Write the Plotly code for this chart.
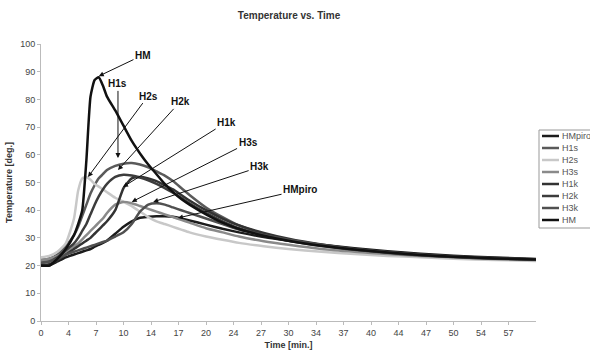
import plotly.graph_objects as go

time = [0, 1, 2, 3, 4, 4.5, 5, 5.5, 6, 6.5, 7, 7.5, 8, 9, 10, 11, 12, 13, 14, 15, 16, 17, 18,
        20, 22, 24, 27, 30, 34, 38, 42, 46, 50, 55, 60]

HMpiro = [20, 20, 21.5, 23, 24, 24.5, 25, 25.5, 26, 26.8, 27.5, 28.2, 29, 31.5, 34, 36, 37.3, 37.6, 37.8, 37.8, 37.6, 37, 36.3,
          34.8, 33.3, 32, 30.3, 29, 27.5, 26.3, 25.2, 24.3, 23.6, 22.9, 22.4]
H1s = [22, 22.5, 24, 27, 31, 34, 38, 42, 46, 49, 51.5, 53, 54.5, 56, 56.8, 57, 56.5, 55.5, 54, 52.5, 50.5, 48, 45.5,
       41, 37.5, 34.5, 31.5, 29.3, 27.3, 25.8, 24.7, 23.8, 23.2, 22.6, 22.2]
H2s = [23, 23.5, 25, 28, 37, 47, 51.5, 52, 51, 49.5, 48.5, 47.5, 46.5, 44.5, 43, 41.5, 39.5, 37.5, 36, 35, 34, 33, 32,
       30.5, 29.3, 28.2, 27, 26, 25, 24.2, 23.5, 23, 22.5, 22, 21.7]
H3s = [22, 22.5, 23.5, 25, 27, 28, 29.5, 31, 32.5, 34, 35.5, 37, 39, 42, 43, 42.5, 41.5, 40.5, 39.5, 38.5, 37.5, 36.5, 35.5,
       33.5, 32, 30.5, 28.8, 27.5, 26, 25, 24.2, 23.5, 23, 22.4, 22]
H1k = [20, 20.5, 22, 24, 26, 27, 28, 29, 30, 31.5, 33, 34.5, 36, 40, 48, 51.5, 52, 51.5, 50.5, 49, 47.5, 45.5, 43.5,
       40, 37, 34.5, 31.8, 29.7, 27.6, 26, 24.9, 24, 23.3, 22.7, 22.3]
H2k = [21, 21.5, 23, 25.5, 28, 30, 32.5, 35, 38.5, 42, 45, 47.5, 49.5, 52, 52.8, 52.5, 51.8, 50.8, 49.5, 48, 46.3, 44.5, 42.5,
       39, 36, 33.5, 31, 29, 27.1, 25.7, 24.6, 23.7, 23.1, 22.5, 22.1]
H3k = [21, 21.5, 22.5, 24, 25, 25.5, 26, 26.5, 27, 27.5, 28, 28.5, 29, 30.5, 32, 35, 39.5, 42, 42.5, 42, 41, 40, 39,
       37, 35, 33, 31, 29.3, 27.4, 25.9, 24.8, 23.9, 23.2, 22.6, 22.2]
HM = [20, 20, 22.5, 26, 31, 35, 40, 58, 81, 87, 88, 85, 81, 76, 70.5, 65, 60.5, 56.5, 53, 49.5, 46.5, 44, 42,
      38.5, 35.5, 33.2, 30.8, 29, 27.2, 25.8, 24.7, 23.8, 23.2, 22.6, 22.2]

series_names = ["HMpiro", "H1s", "H2s", "H3s", "H1k", "H2k", "H3k", "HM"]
series_values = [HMpiro, H1s, H2s, H3s, H1k, H2k, H3k, HM]
series_colors = ["#1c1c1c", "#5a5a5a", "#c8c8c8", "#8a8a8a", "#333333", "#3c3c3c", "#505050", "#111111"]

tick_labels = ["0", "4", "7", "10", "14", "17", "20", "24", "27", "30", "34", "37", "40", "44", "47", "50", "54", "57"]
tick_positions = [i * 10 / 3 for i in range(len(tick_labels))]

ann_labels = ["HM", "H1s", "H2s", "H2k", "H1k", "H3s", "H3k", "HMpiro"]
ann_head_t = [7.0, 9.33, 5.7, 9.33, 9.94, 11.0, 13.6, 16.6]
ann_head_T = [88.4, 58.8, 52.0, 54.5, 48.4, 43.0, 43.0, 37.2]
ann_tail_t = [12.36, 9.33, 12.97, 16.85, 22.5, 25.1, 26.5, 31.4]
ann_tail_T = [96.0, 85.6, 81.2, 79.1, 71.8, 64.3, 55.6, 47.3]

FONT = "Liberation Sans, Arial, sans-serif"
W, H = 590, 354
ML, MR, MT, MB = 41, 54, 44, 33
PW, PH = W - ML - MR, H - MT - MB


def px_x(px):
    return (px - ML) / PW


def px_y(py):
    return (H - MB - py) / PH


fig = go.Figure()
for name, vals, col in zip(series_names, series_values, series_colors):
    fig.add_trace(go.Scatter(x=time, y=vals, name=name, mode="lines", showlegend=False,
                             line=dict(color=col, width=2.5, shape="spline", smoothing=0.5)))

for txt, hx, hy, tx, ty in zip(ann_labels, ann_head_t, ann_head_T, ann_tail_t, ann_tail_T):
    fig.add_annotation(x=hx, y=hy, ax=tx, ay=ty, axref="x", ayref="y", xref="x", yref="y",
                       text="<b>" + txt + "</b>", showarrow=True, arrowhead=2, arrowsize=1,
                       arrowwidth=1, arrowcolor="#111111",
                       font=dict(family=FONT, size=10, color="#111111"))

shapes = [dict(type="rect", xref="paper", yref="paper", x0=px_x(539), x1=px_x(600),
               y0=px_y(228), y1=px_y(130), line=dict(color="#999999", width=1), fillcolor="white",
               layer="above")]
row_y = [136, 148, 160, 172, 184, 196, 208, 220]
for name, col, ry in zip(series_names, series_colors, row_y):
    shapes.append(dict(type="line", xref="paper", yref="paper", x0=px_x(542), x1=px_x(559),
                       y0=px_y(ry), y1=px_y(ry), line=dict(color=col, width=2.5), layer="above"))
    fig.add_annotation(x=px_x(560), y=px_y(ry), xref="paper", yref="paper", text=name,
                       showarrow=False, xanchor="left", yanchor="middle",
                       font=dict(family=FONT, size=9, color="#555555"))

fig.update_layout(
    width=W, height=H,
    margin=dict(l=ML, r=MR, t=MT, b=MB),
    paper_bgcolor="white", plot_bgcolor="white",
    shapes=shapes,
    showlegend=False,
    title=dict(text="<b>Temperature vs. Time</b>", x=0.49, xanchor="center", y=0.965, yanchor="top",
               font=dict(family=FONT, size=10, color="#333333")),
    font=dict(family=FONT, size=9, color="#444444"),
    xaxis=dict(range=[0, 60], tickvals=tick_positions, ticktext=tick_labels, showgrid=False,
               zeroline=False, showline=True, linecolor="#bbbbbb", linewidth=1, automargin=False,
               ticks="outside", ticklen=3, tickcolor="#bbbbbb",
               title=dict(text="<b>Time [min.]</b>", standoff=4, font=dict(size=9, color="#333333"))),
    yaxis=dict(range=[0, 100], dtick=10, showgrid=False, zeroline=False, showline=True, automargin=False,
               linecolor="#bbbbbb", linewidth=1, ticks="outside", ticklen=3, tickcolor="#bbbbbb",
               title=dict(text="<b>Temperature [deg.]</b>", standoff=6, font=dict(size=9, color="#333333"))),
)

fig.write_html("out.html", config={"displayModeBar": False},
               post_script="document.body.style.margin='0';document.body.style.overflow='hidden';")
